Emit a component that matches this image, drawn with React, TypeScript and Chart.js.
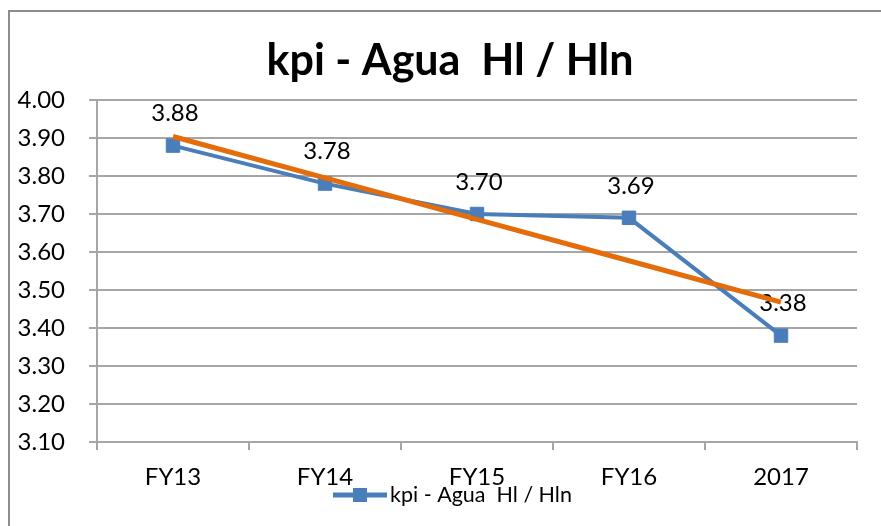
import React, { useEffect, useRef } from 'react';
import { Chart, registerables } from 'chart.js';

Chart.register(...registerables);

const categories = ['FY13', 'FY14', 'FY15', 'FY16', '2017'];
const kpiValues = [3.88, 3.78, 3.7, 3.69, 3.38];
const trendValues = [3.904, 3.795, 3.686, 3.577, 3.468];
const yMin = 3.1;
const yMax = 4.0;
const yStep = 0.1;
const titleText = 'kpi - Agua  Hl / Hln';
const seriesLabel = 'kpi - Agua  Hl / Hln';

const BLUE = '#4a7ebb';
const ORANGE = '#e46c0a';
const GRID = '#a6a6a6';
const FONT = 'Lato';

const framePlugin = {
  id: 'frame',
  beforeDraw(chart: any) {
    const ctx = chart.ctx;
    ctx.save();
    ctx.fillStyle = '#ffffff';
    ctx.fillRect(0, 0, chart.width, chart.height);
    ctx.strokeStyle = '#8c8c8c';
    ctx.lineWidth = 2;
    ctx.strokeRect(9, 11, chart.width + 20, chart.height + 20);
    ctx.restore();
  },
};

const titlePlugin = {
  id: 'customTitle',
  afterDraw(chart: any) {
    const ctx = chart.ctx;
    ctx.save();
    ctx.fillStyle = '#000000';
    ctx.font = `bold 43px ${FONT}`;
    ctx.textAlign = 'center';
    ctx.textBaseline = 'middle';
    ctx.fillText(titleText, 450, 61);
    ctx.restore();
  },
};

const labelPlugin = {
  id: 'valueLabels',
  afterDatasetDraw(chart: any, args: any) {
    if (args.index !== 0) return;
    const ctx = chart.ctx;
    const meta = chart.getDatasetMeta(0);
    ctx.save();
    ctx.fillStyle = '#000000';
    ctx.font = `24px ${FONT}`;
    ctx.textAlign = 'center';
    ctx.textBaseline = 'middle';
    meta.data.forEach((pt: any, i: number) => {
      const v = chart.data.datasets[0].data[i] as number;
      ctx.fillText(v.toFixed(2), pt.x + 2, pt.y - 32);
    });
    ctx.restore();
  },
};

const legendPlugin = {
  id: 'customLegend',
  afterDraw(chart: any) {
    const ctx = chart.ctx;
    const cy = 495;
    ctx.save();
    ctx.strokeStyle = BLUE;
    ctx.lineWidth = 5;
    ctx.beginPath();
    ctx.moveTo(333, cy);
    ctx.lineTo(387, cy);
    ctx.stroke();
    ctx.fillStyle = BLUE;
    ctx.fillRect(353, cy - 7, 14, 14);
    ctx.fillStyle = '#000000';
    ctx.font = `21.5px ${FONT}`;
    ctx.textAlign = 'left';
    ctx.textBaseline = 'middle';
    ctx.fillText(chart.data.datasets[0].label, 390, cy);
    ctx.restore();
  },
};

export default function App() {
  const ref = useRef<HTMLCanvasElement | null>(null);

  useEffect(() => {
    if (!ref.current) return;
    const chart = new Chart(ref.current, {
      type: 'line',
      data: {
        labels: categories,
        datasets: [
          {
            label: seriesLabel,
            data: kpiValues,
            borderColor: BLUE,
            backgroundColor: BLUE,
            borderWidth: 4,
            pointStyle: 'rect',
            pointRadius: 9.5,
            pointBorderWidth: 1,
            pointBorderColor: BLUE,
            pointBackgroundColor: BLUE,
            tension: 0,
            order: 1,
          },
          {
            label: 'trend',
            data: trendValues,
            borderColor: ORANGE,
            backgroundColor: ORANGE,
            borderWidth: 5,
            pointRadius: 0,
            tension: 0,
            order: 0,
          },
        ],
      },
      options: {
        responsive: false,
        animation: false,
        layout: { padding: { left: 10, right: 24, top: 100, bottom: 0 } },
        plugins: {
          legend: { display: false },
          tooltip: { enabled: false },
          title: { display: false },
        },
        scales: {
          x: {
            offset: true,
            grid: {
              offset: true,
              drawOnChartArea: false,
              drawTicks: true,
              tickLength: 8,
              color: GRID,
              lineWidth: 2,
            },
            border: { display: true, color: GRID, width: 2 },
            ticks: {
              color: '#000000',
              font: { family: FONT, size: 24, lineHeight: 1.2 },
              padding: 12.6,
              maxRotation: 0,
              autoSkip: false,
            },
            afterFit: (s: any) => {
              s.height = 84;
            },
          },
          y: {
            min: yMin,
            max: yMax,
            ticks: {
              stepSize: yStep,
              color: '#000000',
              font: { family: FONT, size: 24, lineHeight: 1.2 },
              padding: 24,
              callback: (v: any) => Number(v).toFixed(2),
            },
            grid: { color: GRID, lineWidth: 2, tickLength: 8 },
            border: { display: true, color: GRID, width: 2 },
            afterFit: (s: any) => {
              s.width = 87;
            },
          },
        },
      },
      plugins: [framePlugin, labelPlugin, titlePlugin, legendPlugin],
    });
    return () => chart.destroy();
  }, []);

  return (
    <div style={{ position: 'absolute', left: 0, top: 0, width: 881, height: 526 }}>
      <canvas ref={ref} width={881} height={526} />
    </div>
  );
}
